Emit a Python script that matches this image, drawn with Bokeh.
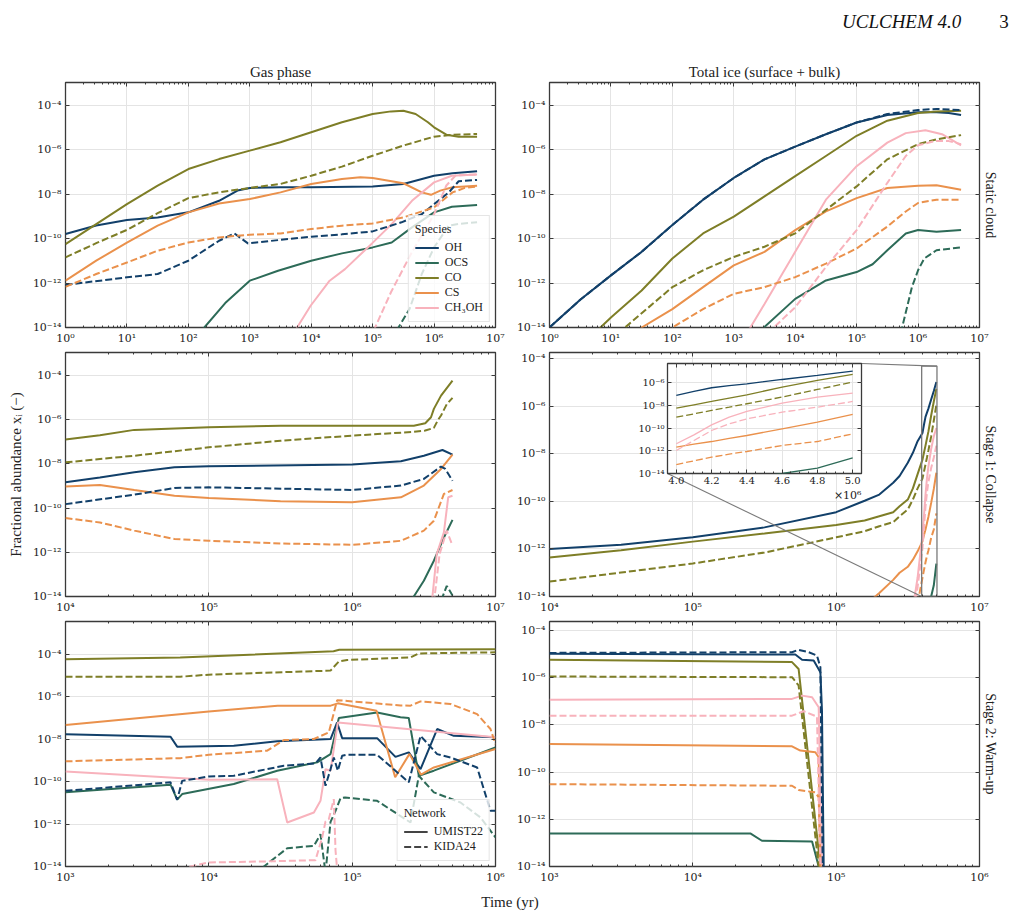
import math

import numpy as np
from bokeh.embed import file_html
from bokeh.layouts import column, row
from bokeh.models import (CustomJSTickFormatter, Div, FixedTicker, Legend, LegendItem,
                          LinearAxis, LogAxis, Range1d, Title)
from bokeh.plotting import figure
from bokeh.resources import INLINE

# ---------------------------------------------------------------------------
# Abundance tracks: (log10 time [yr], log10 fractional abundance)
# UMIST22 = solid, KIDA24 = dashed
# ---------------------------------------------------------------------------

# Static cloud - gas phase
sg_OH_umist = [(0, -9.79), (0.5, -9.40), (1, -9.16), (1.5, -9.04), (2, -8.81), (2.5, -8.29),
               (2.8, -7.83), (3, -7.71), (3.5, -7.68), (4, -7.68), (5, -7.65), (5.5, -7.53),
               (6, -7.16), (6.3, -7.05), (6.7, -6.96)]
sg_OH_kida = [(0, -12.08), (1, -11.74), (1.5, -11.59), (2, -10.99), (2.5, -10.09), (2.75, -9.76),
              (2.97, -10.21), (3.5, -10.05), (4, -9.91), (4.5, -9.80), (5, -9.67), (5.47, -9.26),
              (5.8, -8.89), (6, -8.44), (6.24, -7.91), (6.4, -7.41), (6.7, -7.35)]
sg_OCS_umist = [(2.0, -14.6), (2.26, -14.0), (2.6, -12.9), (3, -11.89), (3.46, -11.44),
                (4, -10.99), (4.5, -10.66), (5, -10.39), (5.31, -10.17), (5.64, -9.49),
                (6.0, -8.81), (6.29, -8.56), (6.7, -8.48)]
sg_OCS_kida = [(5.3, -15.0), (5.42, -14.0), (5.6, -13.17), (5.8, -11.59), (6.0, -10.39),
               (6.24, -9.41), (6.4, -9.33), (6.7, -9.26)]
sg_CO_umist = [(0, -10.24), (0.5, -9.34), (1, -8.44), (1.5, -7.61), (2, -6.86), (2.5, -6.41),
               (3, -6.03), (3.5, -5.65), (4, -5.20), (4.5, -4.75), (5, -4.38), (5.3, -4.26),
               (5.5, -4.23), (5.7, -4.38), (5.9, -4.75), (6.0, -4.98), (6.2, -5.31), (6.4, -5.40),
               (6.7, -5.40)]
sg_CO_kida = [(0, -10.84), (0.5, -10.2), (1, -9.6), (1.5, -8.85), (2, -8.17), (2.5, -7.91),
              (3, -7.71), (3.5, -7.53), (4, -7.16), (4.5, -6.75), (5, -6.26), (5.5, -5.80),
              (6, -5.40), (6.3, -5.31), (6.7, -5.28)]
sg_CS_umist = [(0, -11.89), (0.5, -10.99), (1, -10.17), (1.5, -9.41), (2, -8.81), (2.5, -8.41),
               (3, -8.21), (3.5, -7.91), (4, -7.53), (4.5, -7.31), (4.8, -7.23), (5, -7.26),
               (5.5, -7.50), (5.8, -7.91), (5.95, -8.02), (6.1, -7.83), (6.3, -7.68), (6.7, -7.61)]
sg_CS_kida = [(0, -12.17), (0.5, -11.59), (1, -11.07), (1.5, -10.54), (2, -10.17), (2.5, -9.94),
              (3, -9.82), (3.5, -9.76), (4, -9.56), (4.5, -9.41), (5, -9.31), (5.5, -9.04),
              (6, -8.59), (6.3, -7.91), (6.5, -7.71), (6.7, -7.65)]
sg_CH3OH_umist = [(3.6, -14.8), (3.77, -14.0), (3.99, -13.02), (4.30, -11.89), (4.55, -11.37),
                  (4.99, -10.21), (5.31, -9.34), (5.64, -8.29), (6.0, -7.46), (6.29, -7.16),
                  (6.7, -7.11)]
sg_CH3OH_kida = [(4.9, -15.0), (5.04, -14.0), (5.3, -12.4), (5.64, -10.6), (6.0, -8.9),
                 (6.2, -7.6), (6.35, -7.15), (6.7, -7.1)]

# Static cloud - total ice
si_OH_umist = [(0, -14.0), (0.5, -12.75), (1, -11.65), (1.5, -10.59), (2, -9.38), (2.5, -8.24),
               (3, -7.26), (3.5, -6.42), (4, -5.85), (4.5, -5.29), (5, -4.76), (5.5, -4.42),
               (6, -4.30), (6.3, -4.30), (6.5, -4.33), (6.7, -4.42)]
si_OH_kida = [(0, -14.0), (0.5, -12.75), (1, -11.65), (1.5, -10.59), (2, -9.38), (2.5, -8.24),
              (3, -7.26), (3.5, -6.42), (4, -5.85), (4.5, -5.29), (5, -4.76), (5.5, -4.38),
              (6, -4.20), (6.3, -4.15), (6.7, -4.20)]
si_OCS_umist = [(3.3, -14.6), (3.49, -14.0), (4, -12.71), (4.5, -11.88), (5, -11.50),
                (5.26, -11.15), (5.5, -10.52), (5.8, -9.76), (6, -9.61), (6.3, -9.68), (6.7, -9.61)]
si_OCS_kida = [(5.6, -14.6), (5.74, -14.0), (5.9, -12.18), (6.0, -11.42), (6.1, -10.89),
               (6.3, -10.52), (6.7, -10.39)]
si_CO_umist = [(0.6, -14.6), (0.83, -14.0), (1, -13.55), (1.5, -12.33), (2, -10.89), (2.5, -9.76),
               (3, -9.0), (3.5, -8.09), (4, -7.18), (4.5, -6.27), (5, -5.36), (5.5, -4.68),
               (6, -4.33), (6.3, -4.27), (6.7, -4.23)]
si_CO_kida = [(1.0, -14.6), (1.23, -14.0), (1.5, -13.36), (2, -12.18), (2.5, -11.42),
              (3, -10.82), (3.5, -10.36), (4, -9.76), (4.5, -8.70), (5, -7.64), (5.5, -6.42),
              (6, -5.74), (6.3, -5.52), (6.7, -5.33)]
si_CS_umist = [(1.3, -14.6), (1.5, -14.0), (2, -13.17), (2.5, -12.18), (3, -11.2), (3.5, -10.59),
               (4, -9.61), (4.5, -8.77), (5, -8.17), (5.5, -7.71), (6, -7.61), (6.3, -7.59),
               (6.7, -7.79)]
si_CS_kida = [(1.8, -14.6), (2.0, -14.0), (2.5, -13.17), (3, -12.48), (3.5, -12.18),
              (4, -11.73), (4.5, -11.12), (5, -10.44), (5.5, -9.45), (5.8, -8.77), (6, -8.39),
              (6.3, -8.24), (6.7, -8.24)]
si_CH3OH_umist = [(3.1, -14.6), (3.27, -14.0), (3.5, -12.94), (4, -10.59), (4.5, -8.24),
                  (5, -6.73), (5.5, -5.67), (5.8, -5.24), (6.12, -5.11), (6.39, -5.29),
                  (6.7, -5.79)]
si_CH3OH_kida = [(3.45, -14.6), (3.65, -14.0), (4, -13.09), (4.5, -11.27), (5, -9.61),
                 (5.5, -7.48), (5.8, -6.27), (6, -5.79), (6.29, -5.59), (6.5, -5.6), (6.7, -5.74)]

# Stage 1 collapse - gas phase
cg_OH_umist = [(4, -8.83), (4.24, -8.61), (4.48, -8.38), (4.76, -8.15), (5, -8.11), (6, -8.03),
               (6.34, -7.88), (6.5, -7.63), (6.63, -7.37), (6.70, -7.58)]
cg_OH_kida = [(4, -9.82), (4.48, -9.39), (4.76, -9.09), (5, -9.06), (6, -9.18), (6.34, -8.98),
              (6.5, -8.68), (6.62, -8.12), (6.65, -8.23), (6.70, -8.76)]
cg_OCS_umist = [(6.35, -14.6), (6.43, -14.0), (6.5, -13.29), (6.57, -12.38), (6.64, -11.33),
                (6.70, -10.53)]
cg_OCS_kida = [(6.60, -14.6), (6.62, -14.2), (6.66, -13.52), (6.70, -13.95)]
cg_CO_umist = [(4, -6.90), (4.24, -6.70), (4.48, -6.46), (5, -6.34), (5.5, -6.27), (6, -6.27),
               (6.43, -6.27), (6.51, -6.16), (6.55, -5.89), (6.57, -5.51), (6.62, -4.91),
               (6.70, -4.23)]
cg_CO_kida = [(4, -7.93), (4.48, -7.63), (5, -7.25), (5.5, -6.95), (6, -6.72), (6.43, -6.55),
              (6.51, -6.49), (6.57, -6.37), (6.6, -6.0), (6.62, -5.81), (6.66, -5.3), (6.70, -5.01)]
cg_CS_umist = [(4, -9.02), (4.24, -8.95), (4.48, -9.18), (4.76, -9.44), (5, -9.54), (5.5, -9.69),
               (6, -9.74), (6.34, -9.51), (6.5, -8.98), (6.62, -8.23), (6.70, -7.58)]
cg_CS_kida = [(4, -10.45), (4.24, -10.65), (4.48, -11.02), (4.76, -11.40), (5, -11.48),
              (5.5, -11.60), (6, -11.66), (6.34, -11.48), (6.5, -11.02), (6.57, -10.57),
              (6.64, -9.36), (6.70, -9.18)]
cg_CH3OH_umist = [(6.54, -14.5), (6.56, -14.0), (6.59, -12.08), (6.64, -11.10), (6.67, -9.51),
                  (6.70, -9.44)]
cg_CH3OH_kida = [(6.57, -14.3), (6.61, -12.08), (6.66, -11.02), (6.70, -11.70)]

# Stage 1 collapse - total ice, on a shared time grid (NaN = below 1e-14)
nan = float("nan")
ci_time = [1.0e4, 3.16e4, 1.0e5, 3.16e5, 1.0e6, 1.58e6, 2.0e6, 2.5e6, 2.77e6, 3.16e6, 3.43e6,
           3.7e6, 4.0e6, 4.1e6, 4.2e6, 4.3e6, 4.4e6, 4.6e6, 4.8e6, 5.0e6]
ci_OH_umist = [-12.0, -11.82, -11.51, -11.09, -10.45, -9.97, -9.71, -9.21, -8.93, -8.37, -7.95,
               -7.46, -7.12, -6.76, -6.44, -6.26, -6.09, -5.71, -5.35, -4.97]
ci_CO_umist = [-12.36, -12.05, -11.69, -11.35, -10.99, -10.80, -10.62, -10.45, -10.20, -9.92,
               -9.45, -8.85, -8.24, -7.94, -7.65, -7.35, -7.06, -6.38, -5.79, -5.26]
ci_CO_kida = [-13.37, -12.99, -12.61, -12.15, -11.51, -11.25, -11.04, -10.87, -10.62, -10.34,
              -9.92, -9.45, -9.03, -8.74, -8.44, -8.15, -7.85, -7.26, -6.59, -5.94]
ci_CS_umist = [nan, nan, nan, nan, nan, -14.4, -13.85, -13.3, -13.0, -12.75, -12.45, -12.1,
               -11.68, -11.41, -11.18, -10.91, -10.65, -10.06, -9.47, -8.79]
ci_CS_kida = [nan, nan, nan, nan, nan, nan, nan, nan, nan, nan, nan, -14.3, -13.21, -12.88,
              -12.56, -12.29, -12.06, -11.53, -11.18, -10.50]
ci_CH3OH_umist = [nan, nan, nan, nan, nan, nan, nan, nan, nan, nan, -14.5, -13.2, -11.38,
                  -10.59, -9.71, -9.03, -8.53, -7.79, -7.26, -6.91]
ci_CH3OH_kida = [nan, nan, nan, nan, nan, nan, nan, nan, nan, nan, -15.0, -13.6, -11.97,
                 -11.09, -10.21, -9.62, -9.18, -8.59, -8.15, -7.65]
ci_OCS_umist = [nan, nan, nan, nan, nan, nan, nan, nan, nan, nan, nan, nan, nan, nan, nan,
                -14.6, -14.4, -14.0, -13.53, -12.62]

# Stage 2 warm-up - gas phase
wg_OH_umist = [(3.0, -7.77), (3.733, -7.89), (3.779, -8.36), (4.174, -8.32), (4.477, -8.11),
               (4.849, -8.0), (4.895, -7.22), (4.930, -7.96), (5.174, -7.96), (5.302, -8.84),
               (5.395, -8.63), (5.477, -9.42), (5.593, -7.53), (5.709, -7.85), (6.0, -7.92)]
wg_OH_kida = [(3.0, -10.44), (3.733, -10.04), (3.779, -10.86), (3.814, -9.97), (4.0, -9.76),
              (4.174, -9.73), (4.523, -9.26), (4.744, -9.15), (4.779, -8.87), (4.814, -10.2),
              (4.849, -9.42), (4.872, -8.87), (4.9, -9.49), (4.930, -8.79), (4.965, -8.74),
              (5.174, -8.74), (5.395, -10.04), (5.477, -7.85), (5.593, -8.71), (5.686, -8.87),
              (5.872, -9.34), (5.965, -11.38), (6.0, -11.38)]
wg_OCS_umist = [(3.0, -10.51), (3.733, -10.15), (3.779, -10.85), (3.814, -10.59), (4.174, -10.12),
                (4.477, -9.49), (4.756, -9.10), (4.849, -8.71), (4.907, -7.01), (5.174, -6.75),
                (5.337, -6.98), (5.395, -7.01), (5.465, -9.73), (5.570, -9.49), (6.0, -8.40)]
wg_OCS_kida = [(4.35, -14.5), (4.384, -14.0), (4.547, -13.14), (4.733, -13.03), (4.779, -12.48),
               (4.814, -14.3), (4.849, -11.9), (4.884, -11.38), (4.919, -10.78), (4.95, -10.75),
               (5.174, -10.91), (5.407, -11.93), (5.465, -9.73), (5.570, -10.51),
               (5.756, -10.99), (5.895, -11.69), (6.0, -12.63)]
wg_CO_umist = [(3.0, -4.24), (3.80, -4.16), (4.87, -3.87), (4.91, -3.80), (6.0, -3.77)]
wg_CO_kida = [(3.0, -5.07), (3.80, -5.07), (4.0, -4.97), (4.849, -4.78), (4.907, -4.35),
              (4.965, -4.28), (5.407, -4.16), (5.465, -3.97), (6.0, -3.92)]
wg_CS_umist = [(3.0, -7.34), (4.0, -6.70), (4.48, -6.43), (4.85, -6.43), (4.90, -6.32),
               (5.17, -6.67), (5.30, -9.8), (5.40, -8.7), (5.48, -9.68), (5.57, -9.34), (6.0, -8.47)]
wg_CS_kida = [(3.0, -9.05), (3.80, -8.90), (4.0, -8.74), (4.407, -8.55), (4.523, -8.05),
              (4.733, -8.0), (4.837, -7.69), (4.895, -6.17), (5.0, -6.23), (5.337, -6.42),
              (5.407, -6.43), (5.477, -6.23), (5.686, -6.35), (5.872, -6.83), (5.965, -7.53),
              (6.0, -8.24)]
wg_CH3OH_umist = [(3.0, -9.53), (4.0, -9.92), (4.477, -9.89), (4.547, -11.93), (4.733, -11.46),
                  (4.779, -10.91), (4.814, -9.42), (4.849, -9.49), (4.9, -7.22), (6.0, -7.92)]
wg_CH3OH_kida = [(3.8, -14.2), (3.872, -14.0), (4.0, -13.81), (4.407, -13.76), (4.744, -13.70),
                 (4.791, -12.63), (4.814, -11.88), (4.837, -11.77), (4.872, -10.83),
                 (4.884, -13.26), (4.9, -14.5)]

# Stage 2 warm-up - total ice
wi_OH_umist = [(3.0, -4.99), (4.715, -5.02), (4.762, -5.24), (4.843, -5.27), (4.890, -5.77),
               (4.901, -7.39), (4.913, -14.0), (4.92, -15.0)]
wi_OH_kida = [(3.0, -4.95), (4.692, -4.92), (4.738, -4.82), (4.808, -4.92), (4.866, -5.06),
              (4.890, -5.56), (4.906, -14.0), (4.915, -15.0)]
wi_OCS_umist = [(3.0, -12.60), (4.401, -12.60), (4.482, -12.91), (4.832, -12.94), (4.878, -14.0),
                (4.89, -14.5)]
wi_CO_umist = [(3.0, -5.24), (4.692, -5.34), (4.738, -5.63), (4.890, -14.0), (4.9, -15.0)]
wi_CO_kida = [(3.0, -5.95), (4.692, -5.98), (4.738, -6.33), (4.878, -14.0), (4.89, -15.0)]
wi_CS_umist = [(3.0, -8.81), (4.692, -8.91), (4.750, -9.09), (4.855, -9.16), (4.878, -9.37),
               (4.890, -14.0), (4.9, -15.0)]
wi_CS_kida = [(3.0, -10.51), (4.692, -10.58), (4.738, -10.76), (4.855, -10.86), (4.878, -11.07),
              (4.890, -14.0), (4.9, -15.0)]
wi_CH3OH_umist = [(3.0, -6.93), (4.692, -6.90), (4.762, -6.76), (4.832, -6.83), (4.878, -7.25),
                  (4.901, -14.0), (4.91, -15.0)]
wi_CH3OH_kida = [(3.0, -7.61), (4.692, -7.61), (4.773, -7.42), (4.866, -7.65), (4.890, -14.0),
                 (4.9, -15.0)]

SPECIES = ["OH", "OCS", "CO", "CS", "CH3OH"]
SPECIES_LABEL = {"OH": "OH", "OCS": "OCS", "CO": "CO", "CS": "CS", "CH3OH": "CH\u2083OH"}
NETWORKS = ["UMIST22", "KIDA24"]

# ---------------------------------------------------------------------------
# Styling
# ---------------------------------------------------------------------------
COLORS = {"OH": "#12406A", "OCS": "#2D6B58", "CO": "#7E7E27", "CS": "#EA914C",
          "CH3OH": "#F8B2BC"}
DASH = {"UMIST22": "solid", "KIDA24": "7 3"}
SERIF = "Liberation Serif"
TICK_FONT = "DejaVu Serif"
FRAME = "#3a3a3a"
GRID = "#e4e4e4"
TEXT = "#222222"

POW10 = CustomJSTickFormatter(code="""
const e = Math.round(Math.log10(tick));
const m = {'-': '\u207b', '0': '\u2070', '1': '\u00b9', '2': '\u00b2', '3': '\u00b3',
           '4': '\u2074', '5': '\u2075', '6': '\u2076', '7': '\u2077', '8': '\u2078', '9': '\u2079'};
return '10' + String(e).split('').map(c => m[c]).join('');
""")
BLANK = CustomJSTickFormatter(code="return '';")

Y_MAJOR = [10.0 ** k for k in range(-14, -3, 2)]


def decade_ticker(lo, hi):
    major = [10.0 ** k for k in range(lo, hi + 1)]
    minor = [m * 10.0 ** k for k in range(lo, hi) for m in range(2, 10)]
    return FixedTicker(ticks=major, minor_ticks=minor)


def style_axis(ax, labels, size="11px"):
    ax.axis_line_color = None
    ax.major_tick_in = 4
    ax.major_tick_out = 0
    ax.minor_tick_in = 2
    ax.minor_tick_out = 0
    ax.major_tick_line_color = FRAME
    ax.minor_tick_line_color = FRAME
    ax.major_tick_line_width = 1
    ax.minor_tick_line_width = 1
    if labels:
        ax.major_label_text_font = TICK_FONT
        ax.major_label_text_font_size = size
        ax.major_label_text_color = TEXT
        ax.major_label_standoff = 4
    else:
        ax.formatter = BLANK
        ax.major_label_text_font_size = "0px"
        ax.major_label_standoff = 0


def make_panel(x_lo, x_hi, y_hi, frame_h, left, right, top, bottom, title=None):
    xt = decade_ticker(x_lo, x_hi)
    yt = FixedTicker(ticks=Y_MAJOR, minor_ticks=[])
    kw = {}
    if title:
        kw["title"] = title
    p = figure(x_axis_type="log", y_axis_type="log",
               x_range=Range1d(10.0 ** x_lo, 10.0 ** x_hi), y_range=Range1d(1e-14, y_hi),
               frame_width=430, frame_height=frame_h,
               min_border_left=left, min_border_right=right,
               min_border_top=top, min_border_bottom=bottom,
               output_backend="svg", toolbar_location=None, **kw)
    p.outline_line_color = FRAME
    p.outline_line_width = 1.3
    p.background_fill_color = "white"
    p.border_fill_color = "white"
    p.below[0].ticker = xt
    p.below[0].formatter = POW10
    p.left[0].ticker = yt
    p.left[0].formatter = POW10
    style_axis(p.below[0], True)
    style_axis(p.left[0], True)
    p.xgrid.ticker = xt
    p.ygrid.ticker = yt
    for g in (p.xgrid, p.ygrid):
        g.grid_line_color = GRID
        g.grid_line_width = 1
    ax_top = LogAxis(ticker=xt)
    ax_right = LogAxis(ticker=yt)
    style_axis(ax_top, False)
    style_axis(ax_right, False)
    p.add_layout(ax_top, "above")
    p.add_layout(ax_right, "right")
    if title:
        p.title.align = "center"
        p.title.text_font = SERIF
        p.title.text_font_style = "normal"
        p.title.text_font_size = "15px"
        p.title.text_color = TEXT
        p.title.standoff = 5
    return p


def row_label(p, text):
    t = Title(text=text, align="center", text_font=SERIF, text_font_style="normal",
              text_font_size="14px", text_color=TEXT, standoff=6)
    p.add_layout(t, "right")


def draw_pairs(p, curves, width=2.0):
    rends = {}
    for net in NETWORKS:
        for sp in SPECIES:
            pts = curves.get((sp, net))
            if pts is None:
                continue
            t = [10.0 ** a for a, _ in pts]
            x = [10.0 ** b for _, b in pts]
            rends[(sp, net)] = p.line(t, x, line_color=COLORS[sp], line_width=width,
                                      line_dash=DASH[net])
    return rends


def draw_grid(p, times, curves, width=2.0, t_min=None):
    times = np.asarray(times, dtype=float)
    keep = np.ones(len(times), dtype=bool) if t_min is None else times >= t_min * 0.9999
    for net in NETWORKS:
        for sp in SPECIES:
            vals = curves.get((sp, net))
            if vals is None:
                continue
            x = 10.0 ** np.asarray(vals, dtype=float)
            p.line(times[keep], x[keep], line_color=COLORS[sp], line_width=width,
                   line_dash=DASH[net])


def tag(prefix):
    g = globals()
    out = {}
    for sp in SPECIES:
        for net, suf in (("UMIST22", "umist"), ("KIDA24", "kida")):
            name = f"{prefix}_{sp}_{suf}"
            if name in g:
                out[(sp, net)] = g[name]
    return out


def style_legend(lg):
    lg.location = "bottom_right"
    lg.margin = 5
    lg.padding = 6
    lg.spacing = 0
    lg.label_text_font = SERIF
    lg.label_text_font_size = "12px"
    lg.label_text_color = TEXT
    lg.label_height = 13
    lg.glyph_height = 13
    lg.glyph_width = 24
    lg.label_standoff = 6
    lg.title_text_font = SERIF
    lg.title_text_font_style = "normal"
    lg.title_text_font_size = "12px"
    lg.title_text_color = TEXT
    lg.title_standoff = 3
    lg.border_line_color = "#cccccc"
    lg.border_line_width = 1
    lg.background_fill_color = "white"
    lg.background_fill_alpha = 0.8


# ---------------------------------------------------------------------------
# Panel geometry (pixels)
# ---------------------------------------------------------------------------
COL1 = dict(left=65, right=10)
COL2 = dict(left=44, right=34)
ROW1 = dict(top=82, bottom=20, frame_h=245)
ROW2 = dict(top=5, bottom=20, frame_h=244)
ROW3 = dict(top=5, bottom=22, frame_h=245)

Y_HI_STATIC = 1.1e-3
Y_HI_COLLAPSE_GAS = 1.1e-3
Y_HI_COLLAPSE_ICE = 1.87e-4
Y_HI_WARM_GAS = 3.4e-3
Y_HI_WARM_ICE = 2.4e-4

# Row 1: static cloud
p_sg = make_panel(0, 7, Y_HI_STATIC, ROW1["frame_h"], COL1["left"], COL1["right"],
                  ROW1["top"], ROW1["bottom"], title="Gas phase")
p_si = make_panel(0, 7, Y_HI_STATIC, ROW1["frame_h"], COL2["left"], COL2["right"],
                  ROW1["top"], ROW1["bottom"], title="Total ice (surface + bulk)")
sg_r = draw_pairs(p_sg, tag("sg"))
draw_pairs(p_si, tag("si"))
row_label(p_si, "Static cloud")

species_legend = Legend(title="Species", items=[
    LegendItem(label=SPECIES_LABEL[sp], renderers=[sg_r[(sp, "UMIST22")]]) for sp in SPECIES])
style_legend(species_legend)
p_sg.add_layout(species_legend)

# Row 2: stage 1 collapse
p_cg = make_panel(4, 7, Y_HI_COLLAPSE_GAS, ROW2["frame_h"], COL1["left"], COL1["right"],
                  ROW2["top"], ROW2["bottom"])
p_ci = make_panel(4, 7, Y_HI_COLLAPSE_ICE, ROW2["frame_h"], COL2["left"], COL2["right"],
                  ROW2["top"], ROW2["bottom"])
draw_pairs(p_cg, tag("cg"))
ci_curves = tag("ci")
draw_grid(p_ci, ci_time, ci_curves)
row_label(p_ci, "Stage 1: Collapse")
p_cg.left[0].axis_label = "Fractional abundance x\u1d62 (\u2212)"
p_cg.left[0].axis_label_text_font = SERIF
p_cg.left[0].axis_label_text_font_style = "normal"
p_cg.left[0].axis_label_text_font_size = "15px"
p_cg.left[0].axis_label_text_color = TEXT
p_cg.left[0].axis_label_standoff = 6

# Row 3: stage 2 warm-up
p_wg = make_panel(3, 6, Y_HI_WARM_GAS, ROW3["frame_h"], COL1["left"], COL1["right"],
                  ROW3["top"], ROW3["bottom"])
p_wi = make_panel(3, 6, Y_HI_WARM_ICE, ROW3["frame_h"], COL2["left"], COL2["right"],
                  ROW3["top"], ROW3["bottom"])
draw_pairs(p_wg, tag("wg"))
draw_pairs(p_wi, tag("wi"))
row_label(p_wi, "Stage 2: Warm-up")

# legend-only line styles for the two networks (no visible data)
net_items = []
for net in NETWORKS:
    proxy = p_wg.line([nan, nan], [nan, nan], line_color="#444444", line_width=2,
                      line_dash=DASH[net])
    net_items.append(LegendItem(label=net, renderers=[proxy]))
network_legend = Legend(title="Network", items=net_items)
style_legend(network_legend)
p_wg.add_layout(network_legend)

# ---------------------------------------------------------------------------
# Zoomed inset of the end of the collapse (ice)
# ---------------------------------------------------------------------------
INSET_T = (3.95e6, 5.05e6)
INSET_Y = (1e-14, 5e-5)
INSET_FRAME_W, INSET_FRAME_H = 194, 110
INSET_BORDER = dict(left=34, right=3, top=3, bottom=36)
INSET_PAGE = (633, 360)  # top-left corner of the inset plot on the page

CI_FRAME_LEFT = COL1["left"] + 430 + COL1["right"] + COL2["left"]
CI_FRAME_TOP = ROW1["top"] + ROW1["frame_h"] + ROW1["bottom"] + ROW2["top"]

inset = figure(x_range=Range1d(*INSET_T), y_axis_type="log", y_range=Range1d(*INSET_Y),
               frame_width=INSET_FRAME_W, frame_height=INSET_FRAME_H,
               min_border_left=INSET_BORDER["left"], min_border_right=INSET_BORDER["right"],
               min_border_top=INSET_BORDER["top"], min_border_bottom=INSET_BORDER["bottom"],
               output_backend="svg", toolbar_location=None,
               styles={"position": "absolute", "left": f"{INSET_PAGE[0]}px",
                       "top": f"{INSET_PAGE[1]}px"})
inset.border_fill_alpha = 0
inset.background_fill_color = "white"
inset.outline_line_color = FRAME
inset.outline_line_width = 1.3
ixt = FixedTicker(ticks=list(np.round(np.arange(4.0e6, 5.01e6, 0.2e6), 0)),
                  minor_ticks=list(np.round(np.arange(3.95e6, 5.06e6, 0.05e6), 0)))
iyt = FixedTicker(ticks=[10.0 ** k for k in range(-14, -5, 2)], minor_ticks=[])
inset.below[0].ticker = ixt
inset.below[0].formatter = CustomJSTickFormatter(code="return (tick / 1e6).toFixed(1);")
inset.left[0].ticker = iyt
inset.left[0].formatter = POW10
style_axis(inset.below[0], True, "10px")
style_axis(inset.left[0], True, "10px")
inset.below[0].major_label_standoff = 3
inset.left[0].major_label_standoff = 3
inset.xgrid.ticker = ixt
inset.ygrid.ticker = iyt
for g in (inset.xgrid, inset.ygrid):
    g.grid_line_color = GRID
ia_top = LinearAxis(ticker=ixt)
ia_right = LogAxis(ticker=iyt)
style_axis(ia_top, False)
style_axis(ia_right, False)
inset.add_layout(ia_top, "above")
inset.add_layout(ia_right, "right")
inset.add_layout(Title(text="\u00d710\u2076", align="right", text_font=TICK_FONT,
                       text_font_style="normal", text_font_size="11px", text_color=TEXT,
                       standoff=0), "below")
draw_grid(inset, ci_time, ci_curves, width=1.3, t_min=4.0e6)


def ci_data_at(px, py):
    """Page pixel -> data coordinates of the collapse-ice panel."""
    lx0, lx1 = 4.0, 7.0
    ly0, ly1 = -14.0, math.log10(Y_HI_COLLAPSE_ICE)
    fx = (px - CI_FRAME_LEFT) / 430
    fy = (py - CI_FRAME_TOP) / ROW2["frame_h"]
    return 10 ** (lx0 + fx * (lx1 - lx0)), 10 ** (ly1 - fy * (ly1 - ly0))


in_left = INSET_PAGE[0] + INSET_BORDER["left"]
in_top = INSET_PAGE[1] + INSET_BORDER["top"]
tr_x, tr_y = ci_data_at(in_left + INSET_FRAME_W, in_top)
bl_x, bl_y = ci_data_at(in_left, in_top + INSET_FRAME_H)

p_ci.quad(left=[INSET_T[0]], right=[INSET_T[1]], bottom=[INSET_Y[0]], top=[INSET_Y[1]],
          fill_alpha=0, line_color="#7a7a7a", line_width=1.3)
p_ci.segment(x0=[tr_x, bl_x], y0=[tr_y, bl_y], x1=[INSET_T[1], INSET_T[0]],
             y1=[INSET_Y[1], INSET_Y[0]], line_color="#7a7a7a", line_width=1.1)

# ---------------------------------------------------------------------------
# Page furniture
# ---------------------------------------------------------------------------
header = Div(text="<i>UCLCHEM 4.0</i><span style='padding-left:38px'>3</span>",
             width=190, height=26,
             styles={"position": "absolute", "left": "837px", "top": "3px",
                     "font-family": SERIF, "font-size": "19px", "color": "#111111"})
xlabel = Div(text="Time (yr)", width=1010, height=22,
             styles={"position": "absolute", "left": "0px", "top": "887px",
                     "text-align": "center", "font-family": SERIF, "font-size": "15px",
                     "color": TEXT})

layout = column(row(p_sg, p_si), row(p_cg, p_ci), row(p_wg, p_wi), inset, header, xlabel)

with open("out.html", "w") as f:
    f.write(file_html(layout, INLINE))
